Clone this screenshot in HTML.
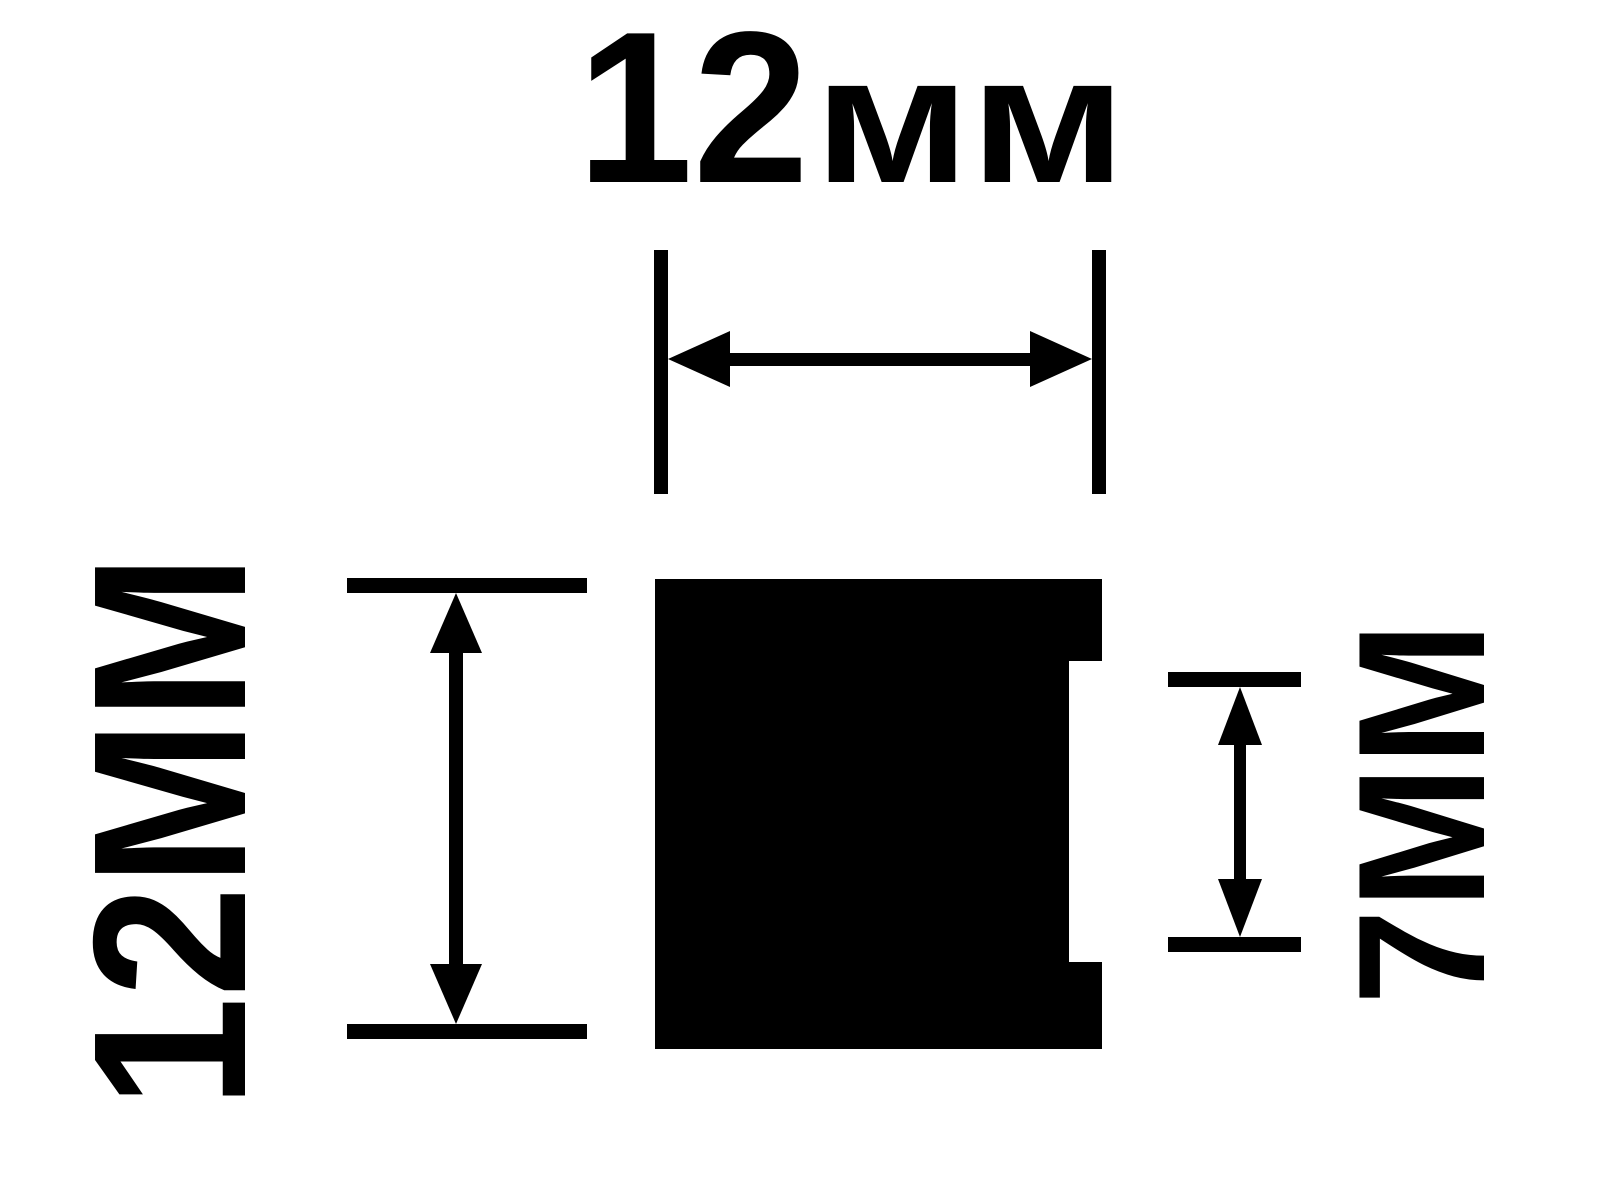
<!DOCTYPE html>
<html><head><meta charset="utf-8"><style>
html,body{margin:0;padding:0;background:#fff;}
svg{display:block;}
text{font-family:"Liberation Sans",Arial,sans-serif;font-weight:bold;fill:#000;}
</style></head><body>
<svg width="1600" height="1200" viewBox="0 0 1600 1200" xmlns="http://www.w3.org/2000/svg">
<rect width="1600" height="1200" fill="#fff"/>
<!-- top label -->
<text x="577" y="182" font-size="216" textLength="232" lengthAdjust="spacingAndGlyphs">12</text>
<text x="814" y="182" font-size="182" textLength="312" lengthAdjust="spacingAndGlyphs">мм</text>
<!-- top dimension -->
<rect x="654" y="250" width="14" height="244" fill="#000"/>
<rect x="1092" y="250" width="14" height="244" fill="#000"/>
<rect x="720" y="353" width="320" height="13" fill="#000"/>
<polygon points="668,359 730,331 730,387" fill="#000"/>
<polygon points="1092,359 1030,331 1030,387" fill="#000"/>
<!-- block -->
<polygon points="655,579 1102,579 1102,661 1069,661 1069,962 1102,962 1102,1049 655,1049" fill="#000"/>
<!-- left dimension -->
<rect x="347" y="578" width="240" height="15" fill="#000"/>
<rect x="347" y="1024" width="240" height="15" fill="#000"/>
<rect x="449" y="650" width="14" height="325" fill="#000"/>
<polygon points="456,593 430,653 482,653" fill="#000"/>
<polygon points="456,1024 430,964 482,964" fill="#000"/>
<text transform="translate(245,1108) rotate(-90)" font-size="218" textLength="554" lengthAdjust="spacingAndGlyphs">12MM</text>
<!-- right dimension -->
<rect x="1168" y="672" width="133" height="15" fill="#000"/>
<rect x="1168" y="937" width="133" height="15" fill="#000"/>
<rect x="1234" y="740" width="12" height="145" fill="#000"/>
<polygon points="1240,687 1218,745 1262,745" fill="#000"/>
<polygon points="1240,937 1218,879 1262,879" fill="#000"/>
<text transform="translate(1484,1005) rotate(-90)" font-size="181" textLength="383" lengthAdjust="spacingAndGlyphs">7MM</text>
</svg>
</body></html>
